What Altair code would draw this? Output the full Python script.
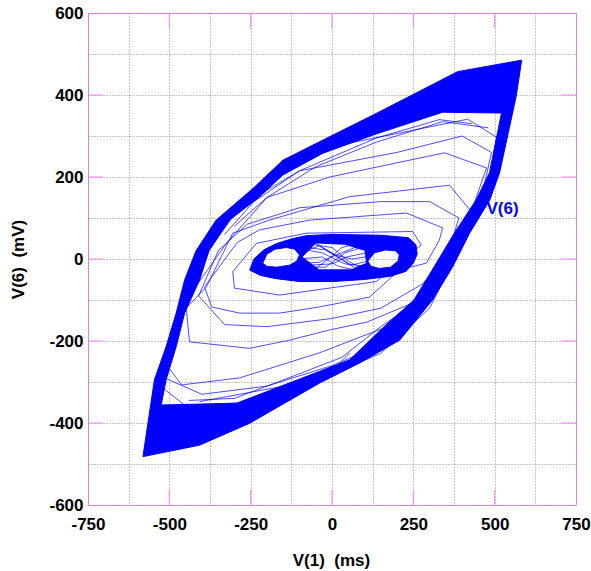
import altair as alt
import pandas as pd

# ---------------- data ----------------
# dense outer band (hysteresis limit cycle): outer boundary and inner boundary
band_outer_x = [-581, -546, -510, -479, -453, -418, -356, -243, -151, -28, 136, 386, 583,
                566, 515, 485, 423, 371, 309, 208, 84, -39, -254, -407, -581]
band_outer_y = [-482, -295, -214, -132, -51, 20, 95, 172, 241, 290, 355, 457, 485,
                396, 210, 144, 63, -19, -100, -198, -254, -303, -401, -454, -482]
band_inner_x = [-525, -294, 54, 167, 252, 314, 376, 443, 484, 521, 340, 136, -28, -151,
                -225, -315, -378, -407, -453, -479, -510, -525]
band_inner_y = [-356, -352, -246, -160, -100, -19, 63, 144, 210, 356, 358, 305, 258, 205,
                150, 95, 20, -51, -132, -214, -295, -356]

# dense inner core (two-lobed attractor)
core_outer_x = [-253, -240, -210, -170, -120, -79, 0, 150, 235, 258, 262, 250, 228, 180, 100, 3, -100, -171, -220, -253]
core_outer_y = [-27, 0, 22, 38, 50, 57, 60, 58, 52, 35, 12, -10, -30, -42, -50, -55, -55, -48, -40, -27]
lobe_left_x = [-213, -200, -170, -130, -108, -100, -115, -140, -175, -200, -213]
lobe_left_y = [-10, -18, -20, -15, -5, 10, 24, 28, 24, 12, -10]
lobe_right_x = [110, 120, 145, 180, 203, 207, 195, 165, 130, 110]
lobe_right_y = [-5, -18, -23, -20, -5, 10, 20, 22, 15, -5]
core_mid_x = [-90, -40, 60, 105, 100, 40, -50, -90]
core_mid_y = [5, -25, -25, -10, 20, 35, 38, 5]

# strands crossing the middle of the core
strand1_x = [-100, -40, 20, 60, 110]
strand1_y = [14, 32, 5, -15, -5]
strand2_x = [-100, -30, 40, 110]
strand2_y = [25, 15, -12, -18]
strand3_x = [-110, -40, 20, 70, 110]
strand3_y = [-11, -8, 12, 28, 22]
strand4_x = [-95, -20, 40, 100]
strand4_y = [-20, -20, 15, 30]
strand5_x = [-80, 0, 50, 95]
strand5_y = [38, 28, -5, -25]
strand6_x = [-60, -10, 30, 80]
strand6_y = [-28, 0, 28, 38]
strand7_x = [-90, -20, 30, 70, 105]
strand7_y = [30, 22, -2, -22, -12]
strand8_x = [-70, 0, 45, 105]
strand8_y = [-15, -12, 5, 15]
strand9_x = [-100, -30, 20, 80]
strand9_y = [0, 5, -18, -28]
strand10_x = [-50, 10, 60, 105]
strand10_y = [38, 10, 0, 5]

# transient orbits between core and band
ring1_x = [-233, -305, -300, -161, 136, 274, 248, -79, -233]
ring1_y = [38, -31, -71, -88, -55, 34, 67, 63, 38]
ring2_x = [-315, -290, -223, -68, 55, 207, 229, 340, 330, 290, 207, 115, -39, -161, -284, -370, -392, -315]
ring2_y = [15, 41, 71, 95, 102, 111, 112, 76, 46, -10, -27, -93, -117, -132, -132, -117, -68, 15]
ring2b_x = [-410, -350, -260, -100, 150, 300, 390, 360, 280, 150, 0, -200, -330, -410]
ring2b_y = [-90, 20, 85, 125, 140, 140, 100, 20, -60, -120, -145, -165, -160, -90]
ring3_x = [-448, -386, -305, -192, 54, 361, 432, 270, 107, -7, -131, -254, -438, -448]
ring3_y = [-120, -68, 63, 95, 152, 180, 112, -100, -154, -173, -198, -218, -202, -120]
ring4_x = [-508, -448, -325, -200, -7, 346, 475, 430, 402, 259, 167, -39, -284, -462, -508]
ring4_y = [-259, -100, 38, 150, 200, 259, 222, 120, 71, -117, -166, -229, -290, -307, -259]
ring4b_x = [-515, -470, -390, -280, -100, 200, 400, 490, 460, 400, 290, 180, 0, -200, -400, -515]
ring4b_y = [-290, -130, 10, 130, 215, 260, 300, 260, 150, 60, -100, -200, -260, -310, -330, -290]
ring5_x = [-520, -495, -440, -360, -250, -7, 417, 506, 480, 400, 300, 150, -131, -284, -453, -520]
ring5_y = [-315, -200, -60, 60, 160, 273, 341, 297, 180, 40, -120, -230, -327, -351, -356, -315]
edge1_x = [-330, -240, -100, 136, 330, 430]
edge1_y = [60, 140, 215, 295, 340, 330]
edge1b_x = [-300, -200, -50, 136, 340, 480]
edge1b_y = [80, 150, 225, 285, 335, 320]
edge2_x = [330, 250, 150, 30, -150, -300, -440]
edge2_y = [-30, -110, -165, -240, -295, -340, -345]
edge3_x = [-407, -100, 2, 54]
edge3_y = [-348, -303, -271, -229]

# axes, ticks and labels
x_grid = [-750, -625, -500, -375, -250, -125, 0, 125, 250, 375, 500, 625, 750]
y_grid = [-600, -500, -400, -300, -200, -100, 0, 100, 200, 300, 400, 500, 600]
x_major = [-500, -250, 0, 250, 500]
y_major = [-400, -200, 0, 200, 400]
trace_label = ["V(6)"]
trace_label_x = [475]
trace_label_y = [122]

# ---------------- build tables ----------------
def path_rows(name, xs, ys):
    return [{"path": name, "i": k, "x": a, "y": b} for k, (a, b) in enumerate(zip(xs, ys))]

# filled shapes: outer ring followed by hole rings (opposite winding), back to start
band_fill = path_rows("band", band_outer_x + band_inner_x + [band_outer_x[0]],
                      band_outer_y + band_inner_y + [band_outer_y[0]])
core_fill = path_rows("core",
                      core_outer_x + lobe_left_x + [core_outer_x[0]] + lobe_right_x + [core_outer_x[0]] + core_mid_x + [core_outer_x[0]],
                      core_outer_y + lobe_left_y + [core_outer_y[0]] + lobe_right_y + [core_outer_y[0]] + core_mid_y + [core_outer_y[0]])
fill_df = pd.DataFrame(band_fill + core_fill)

outline_rows = (path_rows("bo", band_outer_x, band_outer_y) + path_rows("bi", band_inner_x, band_inner_y)
                + path_rows("co", core_outer_x, core_outer_y) + path_rows("ll", lobe_left_x, lobe_left_y)
                + path_rows("lr", lobe_right_x, lobe_right_y))
outline_df = pd.DataFrame(outline_rows)

thin_rows = []
for nm, xs_, ys_ in [("s1", strand1_x, strand1_y), ("s2", strand2_x, strand2_y), ("s3", strand3_x, strand3_y),
                     ("s4", strand4_x, strand4_y), ("s5", strand5_x, strand5_y), ("s6", strand6_x, strand6_y),
                     ("s7", strand7_x, strand7_y), ("s8", strand8_x, strand8_y), ("s9", strand9_x, strand9_y),
                     ("s10", strand10_x, strand10_y),
                     ("r1", ring1_x, ring1_y), ("r2", ring2_x, ring2_y), ("r2b", ring2b_x, ring2b_y),
                     ("r3", ring3_x, ring3_y), ("r4", ring4_x, ring4_y), ("r4b", ring4b_x, ring4b_y),
                     ("r5", ring5_x, ring5_y), ("e1", edge1_x, edge1_y), ("e1b", edge1b_x, edge1b_y),
                     ("e2", edge2_x, edge2_y), ("e3", edge3_x, edge3_y)]:
    thin_rows += path_rows(nm, xs_, ys_)
thin_df = pd.DataFrame(thin_rows)

W, H = 488, 492
BLUE = "#0000ff"
PINK = "#ff7fff"
FONT = "Liberation Sans"

xs = alt.Scale(domain=[-750, 750], nice=False, zero=False)
ys = alt.Scale(domain=[-600, 600], nice=False, zero=False)

x_axis = alt.Axis(values=x_grid, labelExpr="datum.value % 250 === 0 ? '' + datum.value : ''",
                  ticks=False, domain=False, grid=True, gridColor="#8a8a8a", gridDash=[1, 2],
                  labelFont=FONT, labelFontSize=17, labelFontWeight="bold", labelColor="black",
                  labelPadding=11, labelOverlap=False, labelFlush=False, labelBound=False,
                  title="V(1)\u00a0\u00a0(ms)", titleFont=FONT, titleFontSize=17, titleFontWeight="bold",
                  titleColor="black", titleX=243, titleY=60, titleAlign="center", titleBaseline="alphabetic")
y_axis = alt.Axis(values=y_grid, labelExpr="datum.value % 200 === 0 ? '' + datum.value : ''",
                  ticks=False, domain=False, grid=True, gridColor="#8a8a8a", gridDash=[1, 2],
                  labelFont=FONT, labelFontSize=17, labelFontWeight="bold", labelColor="black",
                  labelPadding=5, labelOverlap=False, labelFlush=False, labelBound=False,
                  title="V(6)\u00a0\u00a0(mV)", titleFont=FONT, titleFontSize=17, titleFontWeight="bold",
                  titleColor="black", titleX=-70, titleY=246, titleAngle=-90, titleAlign="center",
                  titleBaseline="middle")

fills = alt.Chart(fill_df).mark_line(filled=True, fill=BLUE, strokeOpacity=0).encode(
    x=alt.X("x:Q", scale=xs, axis=x_axis),
    y=alt.Y("y:Q", scale=ys, axis=y_axis),
    detail="path:N", order="i:Q")

outlines = alt.Chart(outline_df).mark_line(color=BLUE, strokeWidth=1).encode(
    x=alt.X("x:Q", scale=xs), y=alt.Y("y:Q", scale=ys), detail="path:N", order="i:Q")

thin = alt.Chart(thin_df).mark_line(color=BLUE, strokeWidth=1, opacity=0.7).encode(
    x=alt.X("x:Q", scale=xs), y=alt.Y("y:Q", scale=ys), detail="path:N", order="i:Q")

label = alt.Chart(pd.DataFrame({"t": trace_label, "x": trace_label_x, "y": trace_label_y})).mark_text(
    color=BLUE, font=FONT, fontSize=17, fontWeight="bold", align="left", baseline="middle").encode(
    x=alt.X("x:Q", scale=xs), y=alt.Y("y:Q", scale=ys), text="t:N")

xt = pd.DataFrame({"v": x_major})
yt = pd.DataFrame({"v": y_major})
tick_bottom = alt.Chart(xt).mark_rule(color=PINK, strokeWidth=1).encode(
    x=alt.X("v:Q", scale=xs), y=alt.value(H), y2=alt.value(H - 15))
tick_top = alt.Chart(xt).mark_rule(color=PINK, strokeWidth=1).encode(
    x=alt.X("v:Q", scale=xs), y=alt.value(0), y2=alt.value(15))
tick_left = alt.Chart(yt).mark_rule(color=PINK, strokeWidth=1).encode(
    y=alt.Y("v:Q", scale=ys), x=alt.value(0), x2=alt.value(15))
tick_right = alt.Chart(yt).mark_rule(color=PINK, strokeWidth=1).encode(
    y=alt.Y("v:Q", scale=ys), x=alt.value(W), x2=alt.value(W - 15))

chart = alt.layer(fills, outlines, thin, tick_bottom, tick_top, tick_left, tick_right, label).properties(
    width=W, height=H,
    autosize=alt.AutoSizeParams(type="none"),
    padding={"left": 88, "top": 13, "right": 15, "bottom": 66},
    background="white",
).configure_view(stroke=PINK, strokeWidth=1)

chart.save("out.html", embed_options={"renderer": "svg", "actions": False})
